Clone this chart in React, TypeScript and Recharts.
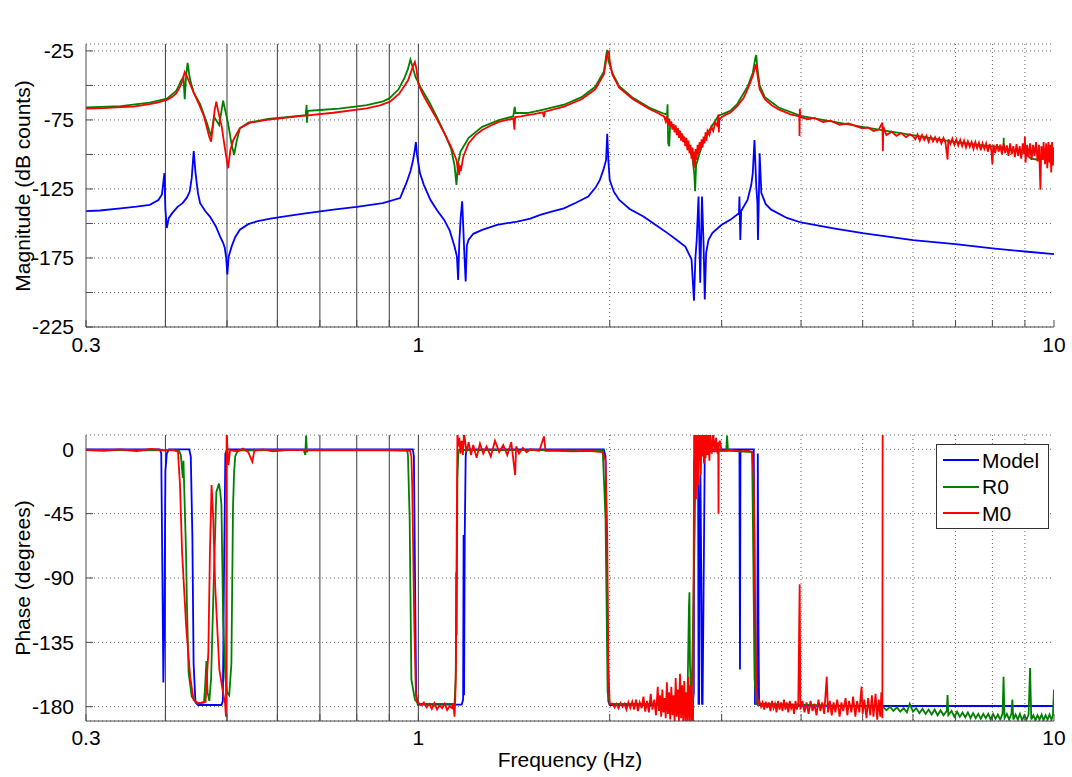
import React from 'react'
import { LineChart, Line, XAxis, YAxis, CartesianGrid, Legend, Label } from 'recharts'

type Pt = [number, number]

// frequency axis (Hz), log scale
const freqTicks = [0.3, 0.4, 0.5, 0.6, 0.7, 0.8, 0.9, 1, 2, 3, 4, 5, 6, 7, 8, 9, 10]
const freqLabels = [0.3, 1, 10]
const solidFreqGrid = [0.4, 0.5, 0.6, 0.7, 0.8, 0.9, 1]
const dottedFreqGrid = [2, 3, 4, 5, 6, 7, 8, 9]

// magnitude axis (dB counts)
const magTicks = [-225, -200, -175, -150, -125, -100, -75, -50, -25]
const magLabels = [-225, -175, -125, -75, -25]

// phase axis (degrees)
const phaseTicks = [-180, -135, -90, -45, 0]

const seriesNames = ['Model', 'R0', 'M0']
const seriesColors = ['#0000ff', '#008000', '#ff0000']

// ---- magnitude, [Hz, dB] ----
const magModel: Pt[] = [
  [0.3, -141], [0.3156, -140.6], [0.34, -139], [0.36, -137.8], [0.378, -136.5], [0.39, -133], [0.395, -129],
  [0.3985, -113.6], [0.4, -140], [0.402, -153.3], [0.405, -146], [0.41, -142.5], [0.418, -138], [0.4257, -135.3],
  [0.432, -131.5], [0.4368, -126.9], [0.44, -117], [0.4432, -97.5], [0.446, -113], [0.45, -128], [0.4536, -135.3],
  [0.462, -141], [0.47, -145], [0.48, -152], [0.4875, -159.4], [0.493, -164], [0.496, -167.8], [0.4985, -175],
  [0.5006, -187], [0.503, -174], [0.5085, -166.6], [0.515, -160], [0.5238, -154.5], [0.54, -150.5], [0.557, -148.5],
  [0.585, -146.5], [0.613, -145], [0.66, -142.8], [0.735, -140], [0.8, -138], [0.879, -135.3], [0.936, -131.6],
  [0.957, -121], [0.972, -112], [0.981, -104], [0.987, -97], [0.991, -91], [0.995, -100], [1.006, -113.7],
  [1.02, -122], [1.045, -133], [1.07, -140.5], [1.098, -147.4], [1.12, -155], [1.14, -166.7], [1.15, -174],
  [1.155, -191], [1.16, -163], [1.166, -145], [1.172, -134], [1.176, -150], [1.182, -175], [1.187, -192],
  [1.192, -166], [1.199, -162], [1.22, -157.5], [1.26, -154.6], [1.33, -151], [1.43, -148.6], [1.5, -146.5],
  [1.555, -143.8], [1.62, -141.5], [1.694, -139], [1.77, -135], [1.85, -130.5], [1.9, -124], [1.93, -118.5],
  [1.955, -111], [1.974, -104], [1.982, -85], [1.99, -104], [2.0, -118.5], [2.03, -127], [2.07, -133],
  [2.15, -139.5], [2.26, -145], [2.36, -151], [2.466, -157], [2.55, -162], [2.63, -166.7], [2.69, -176],
  [2.714, -206], [2.728, -175], [2.741, -162], [2.759, -130.5], [2.776, -193], [2.785, -160], [2.794, -130.5],
  [2.81, -165], [2.822, -205], [2.836, -171.5], [2.86, -162], [2.9, -157], [3.0, -151], [3.095, -147.4],
  [3.194, -142.6], [3.2, -130.5], [3.21, -162], [3.22, -141], [3.295, -133], [3.34, -122], [3.358, -113.7],
  [3.379, -89.6], [3.401, -123], [3.415, -135], [3.422, -162], [3.43, -140], [3.443, -99.2], [3.464, -128],
  [3.52, -136], [3.59, -140], [3.8, -146], [4.0, -149.3], [4.5, -153.5], [5, -157], [6, -162], [7, -165],
  [8, -168], [9, -170.3], [10, -172.2],
]

const magR0: Pt[] = [
  [0.3, -66], [0.34, -65], [0.378, -62.5], [0.402, -59.6], [0.416, -54], [0.424, -46], [0.427, -44], [0.429, -60],
  [0.431, -44], [0.4335, -33.7], [0.437, -45], [0.443, -55], [0.4536, -63.5], [0.465, -77.5], [0.472, -87],
  [0.477, -72.7], [0.486, -78.7], [0.493, -61.1], [0.502, -77.5], [0.508, -92], [0.513, -100.4], [0.518, -90],
  [0.524, -81], [0.54, -77], [0.58, -74.3], [0.62, -73], [0.665, -71.5], [0.667, -64.2], [0.668, -77], [0.67, -68.5],
  [0.7, -67.8], [0.75, -66.8], [0.83, -64.2], [0.88, -61.5], [0.9, -59.4], [0.93, -53], [0.95, -45], [0.963, -38],
  [0.9716, -31.3], [0.98, -37], [0.99, -44], [1.01, -52], [1.04, -62], [1.071, -73.5], [1.098, -84], [1.126, -96],
  [1.14, -108], [1.148, -122], [1.155, -106], [1.165, -98], [1.177, -94.4], [1.2, -88], [1.26, -80], [1.342, -75],
  [1.41, -72.5], [1.418, -65.5], [1.422, -70], [1.483, -70], [1.555, -68], [1.694, -64], [1.806, -58.5],
  [1.898, -51], [1.958, -40], [1.975, -28], [1.982, -24.3], [1.99, -32], [2.019, -41], [2.07, -50.5],
  [2.176, -59], [2.317, -66.5], [2.435, -70.5], [2.462, -71], [2.466, -63.7], [2.472, -92], [2.481, -94],
  [2.49, -78], [2.56, -82], [2.658, -92], [2.7, -103], [2.718, -115], [2.725, -126.7], [2.735, -108],
  [2.794, -93], [2.864, -83], [2.966, -72], [3.095, -68.5], [3.174, -63.5], [3.295, -51], [3.358, -41],
  [3.39, -30], [3.401, -28], [3.412, -36], [3.443, -50], [3.508, -58.5], [3.688, -66], [3.994, -72],
  [4.33, -75], [4.99, -80], [5.99, -86], [6.99, -91], [7.62, -93], [8.33, -95], [8.335, -88], [8.34, -96],
  [8.65, -97], [9.0, -99], [9.2, -103], [9.5, -104], [9.8, -101], [10, -100],
]

const magM0: Pt[] = [
  [0.3, -66.8], [0.32, -66.5], [0.34, -65.8], [0.356, -65.3], [0.378, -63.5], [0.39, -62.3], [0.402, -60.5],
  [0.41, -58.3], [0.416, -55.8], [0.42, -52.5], [0.424, -48.6], [0.427, -43.5], [0.429, -40.2], [0.432, -43],
  [0.437, -48.6], [0.445, -57], [0.4536, -65.5], [0.46, -72.5], [0.4645, -79.9], [0.469, -87.5], [0.472, -90.7],
  [0.475, -80], [0.478, -68], [0.481, -61.8], [0.484, -68], [0.4905, -79.9], [0.496, -95], [0.5, -105],
  [0.502, -110], [0.506, -97], [0.5116, -89.5], [0.5238, -81], [0.5439, -77], [0.5773, -75], [0.6518, -72.2],
  [0.7349, -69.8], [0.8291, -66.6], [0.87, -64.5], [0.9027, -61.8], [0.933, -56], [0.963, -46.5], [0.981, -36],
  [0.9875, -33], [0.993, -38], [1.0, -49], [1.015, -56], [1.032, -62], [1.05, -68], [1.071, -75], [1.098, -84.5],
  [1.126, -94.5], [1.148, -104], [1.153, -110], [1.157, -106], [1.159, -115], [1.162, -108], [1.166, -112],
  [1.177, -101.5], [1.199, -92], [1.23, -86], [1.26, -82.3], [1.3, -79], [1.342, -76.3], [1.38, -75],
  [1.411, -74], [1.416, -82], [1.42, -73], [1.45, -72.5], [1.483, -71.5], [1.52, -70.8], [1.57, -69.5],
  [1.576, -73], [1.582, -69], [1.694, -65.4], [1.806, -60], [1.898, -52.8], [1.958, -42], [1.982, -27.4],
  [1.994, -25.5], [2.0, -32], [2.019, -42], [2.07, -51.6], [2.176, -60], [2.317, -67.4], [2.38, -70],
  [2.435, -72.5], [2.45, -76], [2.46, -72], [2.47, -79], [2.48, -74], [2.49, -80], [2.5, -76], [2.51, -82],
  [2.52, -78], [2.53, -84], [2.54, -79], [2.55, -86], [2.56, -81], [2.57, -88], [2.58, -83], [2.59, -90],
  [2.6, -85], [2.61, -91], [2.62, -87], [2.63, -94], [2.64, -88], [2.65, -97], [2.66, -90], [2.67, -99],
  [2.68, -93], [2.69, -103], [2.7, -95], [2.71, -108], [2.72, -98], [2.725, -110], [2.73, -96], [2.74, -104],
  [2.75, -93], [2.76, -100], [2.77, -91], [2.78, -97], [2.79, -89], [2.8, -95], [2.81, -87], [2.82, -92],
  [2.83, -84], [2.84, -90], [2.85, -83], [2.87, -86], [2.89, -80], [2.91, -83], [2.93, -77], [2.95, -79],
  [2.962, -74], [2.966, -71], [2.97, -84], [2.975, -75], [3.0, -73], [3.05, -71], [3.095, -69.8], [3.174, -65],
  [3.25, -59], [3.295, -52.8], [3.358, -43.2], [3.385, -37], [3.401, -34.7], [3.41, -40], [3.443, -52.8],
  [3.508, -60], [3.6, -64.5], [3.688, -67.4], [3.85, -71], [3.975, -72.5], [3.978, -86.7], [3.982, -67],
  [3.99, -73], [4.1, -74.5], [4.2, -73.5], [4.33, -76.5], [4.45, -75.5], [4.6, -78.5], [4.75, -77.5],
  [4.99, -81], [5.1, -80.5], [5.2, -83], [5.3, -82], [5.37, -77], [5.38, -97.6], [5.39, -80], [5.45, -86],
  [5.55, -83.5], [5.65, -86.5], [5.75, -84.5], [5.85, -87.5], [5.93, -85.5],
  [6.0, -86.7], [6.05, -89], [6.1, -85.5], [6.15, -90], [6.2, -86], [6.25, -89.5], [6.3, -86.5], [6.35, -91],
  [6.4, -87], [6.45, -90.5], [6.5, -87.5], [6.55, -91], [6.6, -88], [6.65, -92], [6.7, -88], [6.75, -91.5],
  [6.8, -103.7], [6.82, -89], [6.87, -92.5], [6.92, -88.5], [6.97, -93], [7.02, -89], [7.07, -93.5],
  [7.12, -89.5], [7.17, -94], [7.22, -90], [7.27, -95], [7.32, -90.5], [7.37, -94.5], [7.42, -91], [7.47, -96],
  [7.52, -91], [7.57, -95.5], [7.62, -91.5], [7.67, -97], [7.72, -92], [7.77, -96], [7.82, -92], [7.87, -98],
  [7.92, -92.5], [7.97, -97], [8.0, -107], [8.03, -93], [8.08, -99], [8.13, -92.5], [8.18, -98], [8.23, -93],
  [8.28, -100], [8.33, -92], [8.38, -99], [8.43, -93.5], [8.48, -101], [8.53, -92], [8.58, -100], [8.63, -94],
  [8.68, -102], [8.73, -92.5], [8.78, -101], [8.83, -94], [8.88, -103], [8.93, -92], [8.98, -100], [9.0, -87],
  [9.02, -106], [9.07, -93], [9.12, -102], [9.17, -92], [9.22, -104], [9.27, -93], [9.32, -101], [9.37, -91],
  [9.42, -105], [9.47, -93], [9.52, -125.5], [9.55, -94], [9.6, -104], [9.63, -91], [9.68, -107], [9.72, -92],
  [9.76, -110], [9.8, -91], [9.84, -106], [9.87, -93], [9.9, -113], [9.93, -91], [9.96, -108], [10, -95],
]

// ---- phase, [Hz, deg] ----
const phaseModel: Pt[] = [
  [0.3, 0], [0.392, 0], [0.394, -3], [0.3955, -80], [0.397, -163], [0.3985, -120], [0.4, -15], [0.402, -3],
  [0.405, 0], [0.436, 0], [0.4385, -5], [0.441, -60], [0.443, -150], [0.446, -177], [0.45, -178.8],
  [0.49, -178.8], [0.4925, -176], [0.4945, -90], [0.497, -3], [0.5, 0], [0.98, 0], [0.984, -5], [0.988, -90],
  [0.992, -172], [0.998, -178.5], [1.17, -178.5], [1.176, -175], [1.178, -60], [1.18, -172], [1.183, -60],
  [1.187, -5], [1.19, 0], [1.958, 0], [1.97, -5], [1.982, -100], [1.99, -176], [2.0, -178.8], [2.7, -178.8],
  [2.712, -170], [2.716, -10], [2.73, -2], [2.755, -5], [2.759, -178], [2.765, -178], [2.772, -40],
  [2.778, -18], [2.788, -100], [2.794, -178], [2.8, -178], [2.815, -60], [2.822, -3], [2.84, 0], [3.2, 0],
  [3.206, -154], [3.212, 0], [3.37, 0], [3.378, -60], [3.385, -178], [3.412, -178], [3.42, -3], [3.428, -120],
  [3.436, -178.8], [3.5, -179.2], [5, -179.5], [10, -179.5],
]

const phaseR0: Pt[] = [
  [0.3, -0.5], [0.42, -0.8], [0.423, -4], [0.426, -20], [0.427, -8], [0.429, -40], [0.431, -72], [0.4325, -110],
  [0.435, -156], [0.44, -173], [0.449, -177.7], [0.46, -177], [0.462, -165], [0.464, -148], [0.466, -170],
  [0.469, -176], [0.472, -160], [0.476, -100], [0.478, -72], [0.481, -30], [0.4856, -24], [0.488, -30],
  [0.49, -39], [0.493, -119], [0.497, -160], [0.5, -170], [0.504, -172], [0.508, -150], [0.511, -40],
  [0.513, -16], [0.515, -5], [0.52, -0.8], [0.6, -0.5], [0.66, -0.5], [0.664, -4], [0.6657, 9.6], [0.668, -2],
  [0.67, -0.5], [0.96, -0.8], [0.963, -4], [0.969, -48.6], [0.975, -161], [0.9875, -175], [1.0, -178],
  [1.14, -178], [1.145, -160], [1.147, -86], [1.149, -130], [1.152, -20], [1.156, -2], [1.16, -0.5],
  [1.95, -0.8], [1.97, -48.6], [1.985, -170], [2.0, -178], [2.65, -178], [2.665, -110], [2.67, -100],
  [2.675, -150], [2.69, -179], [2.72, -60], [2.73, -2], [3.05, -1], [3.06, 9.6], [3.07, -1], [3.35, -2],
  [3.358, -41.5], [3.38, -160], [3.4, -178], [5.38, -180], [5.45, -182.5], [5.52, -180], [5.59, -183],
  [5.66, -180.5], [5.73, -183.5], [5.8, -181], [5.87, -184], [5.93, -178], [6.0, -183.5], [6.07, -181],
  [6.14, -184.5], [6.21, -181.5], [6.28, -185], [6.35, -182], [6.42, -185.5], [6.49, -182], [6.56, -186],
  [6.63, -182.5], [6.7, -186], [6.78, -183], [6.8, -171.8], [6.82, -186], [6.9, -183], [6.97, -187],
  [7.04, -183.5], [7.11, -187], [7.18, -184], [7.25, -187.5], [7.32, -184], [7.39, -188], [7.46, -184.5],
  [7.53, -188], [7.6, -185], [7.67, -188.5], [7.74, -185], [7.81, -188], [7.88, -185], [7.95, -189],
  [8.02, -185], [8.09, -188.5], [8.16, -185.5], [8.23, -189], [8.3, -185], [8.33, -159], [8.36, -188],
  [8.43, -185], [8.5, -189], [8.57, -185], [8.6, -175], [8.63, -189], [8.7, -185.5], [8.77, -189],
  [8.84, -185], [8.91, -189.5], [8.98, -186], [9.05, -189], [9.12, -185.5], [9.17, -153], [9.21, -189],
  [9.28, -186], [9.35, -189.5], [9.42, -186], [9.49, -189], [9.56, -185.5], [9.63, -189.5], [9.7, -186],
  [9.77, -189], [9.84, -185.5], [9.91, -189], [9.96, -186], [10, -168],
]

const phaseM0: Pt[] = [
  [0.3, -0.5], [0.32, -1], [0.34, 0], [0.36, -1.2], [0.38, 0.2], [0.4, -0.8], [0.41, -0.3], [0.4186, -1.6],
  [0.4217, -25], [0.4249, -72], [0.4312, -123.7], [0.4375, -159], [0.443, -175.3], [0.4514, -177.7],
  [0.4626, -176.5], [0.4673, -142], [0.47, -72], [0.4728, -25], [0.4757, -48.6], [0.479, -95.5], [0.4863, -154],
  [0.4931, -170.6], [0.4965, -177.7], [0.4981, -187], [0.4993, 12], [0.5025, -11], [0.5056, -0.5], [0.52, -1.5],
  [0.53, 0.5], [0.54, -2], [0.548, -8.7], [0.552, -1], [0.57, 0], [0.59, -1.5], [0.62, -0.5], [0.7, -0.5],
  [0.9, -0.5], [0.97, -1], [0.975, -5], [0.978, -25], [0.985, -119], [0.991, -170.6], [0.996, -176.5],
  [1.01, -179], [1.02, -177], [1.03, -180.5], [1.04, -178], [1.05, -181.5], [1.06, -177.5], [1.07, -182],
  [1.08, -179], [1.09, -181], [1.1, -178], [1.11, -182.3], [1.12, -179.5], [1.13, -181], [1.135, -178],
  [1.14, -187], [1.143, -175], [1.146, -150], [1.149, -60], [1.152, 12], [1.156, 2], [1.16, 8], [1.165, -3],
  [1.17, 6], [1.175, -4], [1.18, 12], [1.19, -2], [1.2, 5], [1.21, -4], [1.22, 3], [1.235, -6], [1.25, 4],
  [1.265, -3], [1.28, 2], [1.3, -5], [1.32, 6], [1.34, -2], [1.36, 3], [1.38, -4], [1.4, 5], [1.42, -18],
  [1.425, 2], [1.44, -3], [1.46, 1], [1.48, -2], [1.5, 0], [1.55, -1], [1.576, 9], [1.585, -1], [1.65, -1],
  [1.75, -1.5], [1.85, -1], [1.95, -2], [1.97, -8], [1.982, -60], [1.99, -150], [2.0, -178], [2.02, -177.7],
  [2.035, -180.5], [2.05, -178], [2.065, -181], [2.08, -177.5], [2.095, -180], [2.11, -178], [2.125, -182],
  [2.14, -177], [2.155, -181], [2.17, -176.5], [2.185, -182], [2.2, -175], [2.215, -183], [2.23, -177],
  [2.245, -181], [2.26, -173], [2.275, -183.5], [2.29, -176], [2.305, -184], [2.32, -171], [2.335, -182],
  [2.35, -175], [2.365, -186], [2.38, -166], [2.39, -183], [2.4, -172], [2.41, -187], [2.42, -168],
  [2.43, -184], [2.44, -174], [2.45, -188], [2.46, -163], [2.47, -185], [2.48, -170], [2.49, -189],
  [2.5, -166], [2.51, -186], [2.52, -172], [2.53, -190], [2.54, -160], [2.55, -187], [2.56, -168],
  [2.57, -190], [2.58, -157], [2.59, -188], [2.6, -165], [2.61, -190], [2.62, -162], [2.63, -190],
  [2.64, -170], [2.65, -190], [2.66, -159], [2.67, -190], [2.68, -165], [2.69, -190], [2.7, -175],
  [2.705, -190], [2.71, -100], [2.716, 15], [2.722, -20], [2.728, 15], [2.734, -35], [2.74, 14], [2.746, -12],
  [2.752, 15], [2.758, -25], [2.764, 12], [2.77, -8], [2.776, 15], [2.782, -18], [2.79, 14], [2.798, -5],
  [2.806, 15], [2.814, -10], [2.822, 12], [2.83, -6], [2.84, 14], [2.85, -4], [2.86, 12], [2.87, -8],
  [2.88, 10], [2.895, -3], [2.91, 12], [2.925, -2], [2.94, 8], [2.955, -3], [2.963, 5], [2.966, -45],
  [2.969, 2], [2.98, 6], [3.0, -1], [3.05, -1], [3.1, -0.5], [3.2, -1.5], [3.3, -1], [3.35, -2], [3.37, -20],
  [3.385, -100], [3.4, -160], [3.42, -178], [3.44, -176], [3.46, -180], [3.48, -177], [3.5, -182],
  [3.52, -176.5], [3.54, -181], [3.56, -177], [3.58, -183], [3.6, -176], [3.62, -181], [3.64, -178],
  [3.66, -184], [3.68, -176], [3.7, -182], [3.72, -177], [3.74, -183], [3.76, -175], [3.78, -182],
  [3.8, -177], [3.82, -184], [3.84, -176], [3.86, -181], [3.88, -178], [3.9, -185], [3.92, -176],
  [3.94, -182], [3.96, -177], [3.98, -94.3], [3.99, -182], [4.02, -176], [4.05, -184], [4.08, -177],
  [4.11, -185], [4.14, -176], [4.17, -183], [4.2, -178], [4.23, -186], [4.26, -175], [4.29, -183],
  [4.32, -177], [4.35, -185], [4.39, -159], [4.41, -184], [4.44, -176], [4.47, -186], [4.5, -177],
  [4.53, -184], [4.56, -175], [4.6, -187], [4.63, -177], [4.66, -183], [4.7, -174], [4.73, -186],
  [4.76, -176], [4.8, -184], [4.83, -173], [4.87, -187], [4.9, -176], [4.94, -184], [4.98, -166],
  [5.0, -185], [5.03, -175], [5.07, -188], [5.1, -174], [5.14, -186], [5.17, -172], [5.2, -187],
  [5.24, -171], [5.27, -189], [5.3, -175], [5.33, -187], [5.35, -170], [5.37, -188], [5.38, 180], [10, 180],
]

const FONT = '"Liberation Sans", Arial, Helvetica, sans-serif'
const AXIS = '#4d4d4d'
const tickStyle = { fill: '#000', fontSize: 21, fontFamily: FONT }

const rows = (pts: Pt[]) => pts.map(([f, v]) => ({ f, v }))
const fmtFreq = (v: number) => (freqLabels.includes(v) ? String(v) : '')
const fmtMag = (v: number) => (magLabels.includes(v) ? String(v) : '')
const blank = () => ''

const textAt = (text: string, x: number, y: number, size: number, angle = 0) => (
  <text
    x={x}
    y={y}
    transform={angle ? `rotate(${angle} ${x} ${y})` : undefined}
    textAnchor="middle"
    fontSize={size}
    fontFamily={FONT}
    fill="#000"
  >
    {text}
  </text>
)

function LegendBox(props: any) {
  // keep the plotting order: Model, R0, M0
  const payload = [...(props.payload || [])].sort(
    (a: any, b: any) => seriesNames.indexOf(a.value) - seriesNames.indexOf(b.value)
  )
  return (
    <div
      style={{
        width: 113,
        height: 85,
        boxSizing: 'border-box',
        border: '1px solid #333',
        background: '#fff',
        paddingTop: 2,
        fontFamily: FONT,
        fontSize: 21,
      }}
    >
      {payload.map((entry: any) => (
        <div key={entry.value} style={{ height: 26.5, display: 'flex', alignItems: 'center' }}>
          <span style={{ display: 'inline-block', width: 36, height: 2, marginLeft: 6, background: entry.color }} />
          <span style={{ marginLeft: 3, color: '#000', lineHeight: '21px' }}>{entry.value}</span>
        </div>
      ))}
    </div>
  )
}

export default function App() {
  const magSeries = [magModel, magR0, magM0]
  const phaseSeries = [phaseModel, phaseR0, phaseM0]

  return (
    <div style={{ position: 'absolute', left: 0, top: 0, width: 1072, height: 777, background: '#fff' }}>
      {/* magnitude */}
      <div style={{ position: 'absolute', left: 0, top: 0 }}>
        <LineChart width={1072} height={380} margin={{ top: 44, right: 18, bottom: 0, left: 0 }}>
          <CartesianGrid
            horizontal
            vertical
            verticalValues={dottedFreqGrid}
            stroke="#666"
            strokeDasharray="1 3"
          />
          <CartesianGrid horizontal={false} vertical verticalValues={solidFreqGrid} stroke="#3a3a3a" />
          <XAxis
            dataKey="f"
            type="number"
            scale="log"
            domain={[0.3, 10]}
            allowDataOverflow
            ticks={freqTicks}
            interval={0}
            tickFormatter={fmtFreq}
            tickSize={-7}
            tickMargin={17}
            height={53}
            stroke={AXIS}
            tick={tickStyle}
          />
          <XAxis
            xAxisId="top"
            orientation="top"
            dataKey="f"
            type="number"
            scale="log"
            domain={[0.3, 10]}
            allowDataOverflow
            ticks={freqTicks}
            interval={0}
            tickFormatter={blank}
            tickSize={-7}
            height={0}
            stroke={AXIS}
          >
            <Label content={() => textAt('Transfer Function: X Driving X', 570, 28, 21)} />
          </XAxis>
          <YAxis
            type="number"
            domain={[-225, -20]}
            allowDataOverflow
            ticks={magTicks}
            interval={0}
            tickFormatter={fmtMag}
            tickSize={-7}
            tickMargin={19}
            width={86}
            stroke={AXIS}
            tick={tickStyle}
          >
            <Label content={() => textAt('Magnitude (dB counts)', 30, 186, 21, -90)} />
          </YAxis>
          <YAxis
            yAxisId="right"
            orientation="right"
            type="number"
            domain={[-225, -20]}
            allowDataOverflow
            ticks={magTicks}
            interval={0}
            tickFormatter={blank}
            tickSize={-7}
            width={0}
            stroke={AXIS}
          />
          {magSeries.map((pts, i) => (
            <Line
              key={seriesNames[i]}
              data={rows(pts)}
              dataKey="v"
              name={seriesNames[i]}
              type="linear"
              stroke={seriesColors[i]}
              strokeWidth={1.8}
              dot={false}
              activeDot={false}
              isAnimationActive={false}
            />
          ))}
        </LineChart>
      </div>

      {/* phase */}
      <div style={{ position: 'absolute', left: 0, top: 390 }}>
        <LineChart width={1072} height={387} margin={{ top: 45, right: 18, bottom: 0, left: 0 }}>
          <CartesianGrid
            horizontal
            vertical
            verticalValues={dottedFreqGrid}
            stroke="#666"
            strokeDasharray="1 3"
          />
          <CartesianGrid horizontal={false} vertical verticalValues={solidFreqGrid} stroke="#3a3a3a" />
          <XAxis
            dataKey="f"
            type="number"
            scale="log"
            domain={[0.3, 10]}
            allowDataOverflow
            ticks={freqTicks}
            interval={0}
            tickFormatter={fmtFreq}
            tickSize={-7}
            tickMargin={16}
            height={56}
            stroke={AXIS}
            tick={tickStyle}
          >
            <Label content={() => textAt('Frequency (Hz)', 570, 377, 21)} />
          </XAxis>
          <XAxis
            xAxisId="top"
            orientation="top"
            dataKey="f"
            type="number"
            scale="log"
            domain={[0.3, 10]}
            allowDataOverflow
            ticks={freqTicks}
            interval={0}
            tickFormatter={blank}
            tickSize={-7}
            height={0}
            stroke={AXIS}
          />
          <YAxis
            type="number"
            domain={[-190, 10]}
            allowDataOverflow
            ticks={phaseTicks}
            interval={0}
            tickSize={-7}
            tickMargin={19}
            width={86}
            stroke={AXIS}
            tick={tickStyle}
          >
            <Label content={() => textAt('Phase (degrees)', 30, 188, 21, -90)} />
          </YAxis>
          <YAxis
            yAxisId="right"
            orientation="right"
            type="number"
            domain={[-190, 10]}
            allowDataOverflow
            ticks={phaseTicks}
            interval={0}
            tickFormatter={blank}
            tickSize={-7}
            width={0}
            stroke={AXIS}
          />
          <Legend
            layout="vertical"
            align="center"
            verticalAlign="middle"
            wrapperStyle={{ left: 936, top: 54, width: 113, height: 85 }}
            content={(p: any) => <LegendBox {...p} />}
          />
          {phaseSeries.map((pts, i) => (
            <Line
              key={seriesNames[i]}
              data={rows(pts)}
              dataKey="v"
              name={seriesNames[i]}
              type="linear"
              stroke={seriesColors[i]}
              strokeWidth={1.8}
              dot={false}
              activeDot={false}
              isAnimationActive={false}
            />
          ))}
        </LineChart>
      </div>
    </div>
  )
}
